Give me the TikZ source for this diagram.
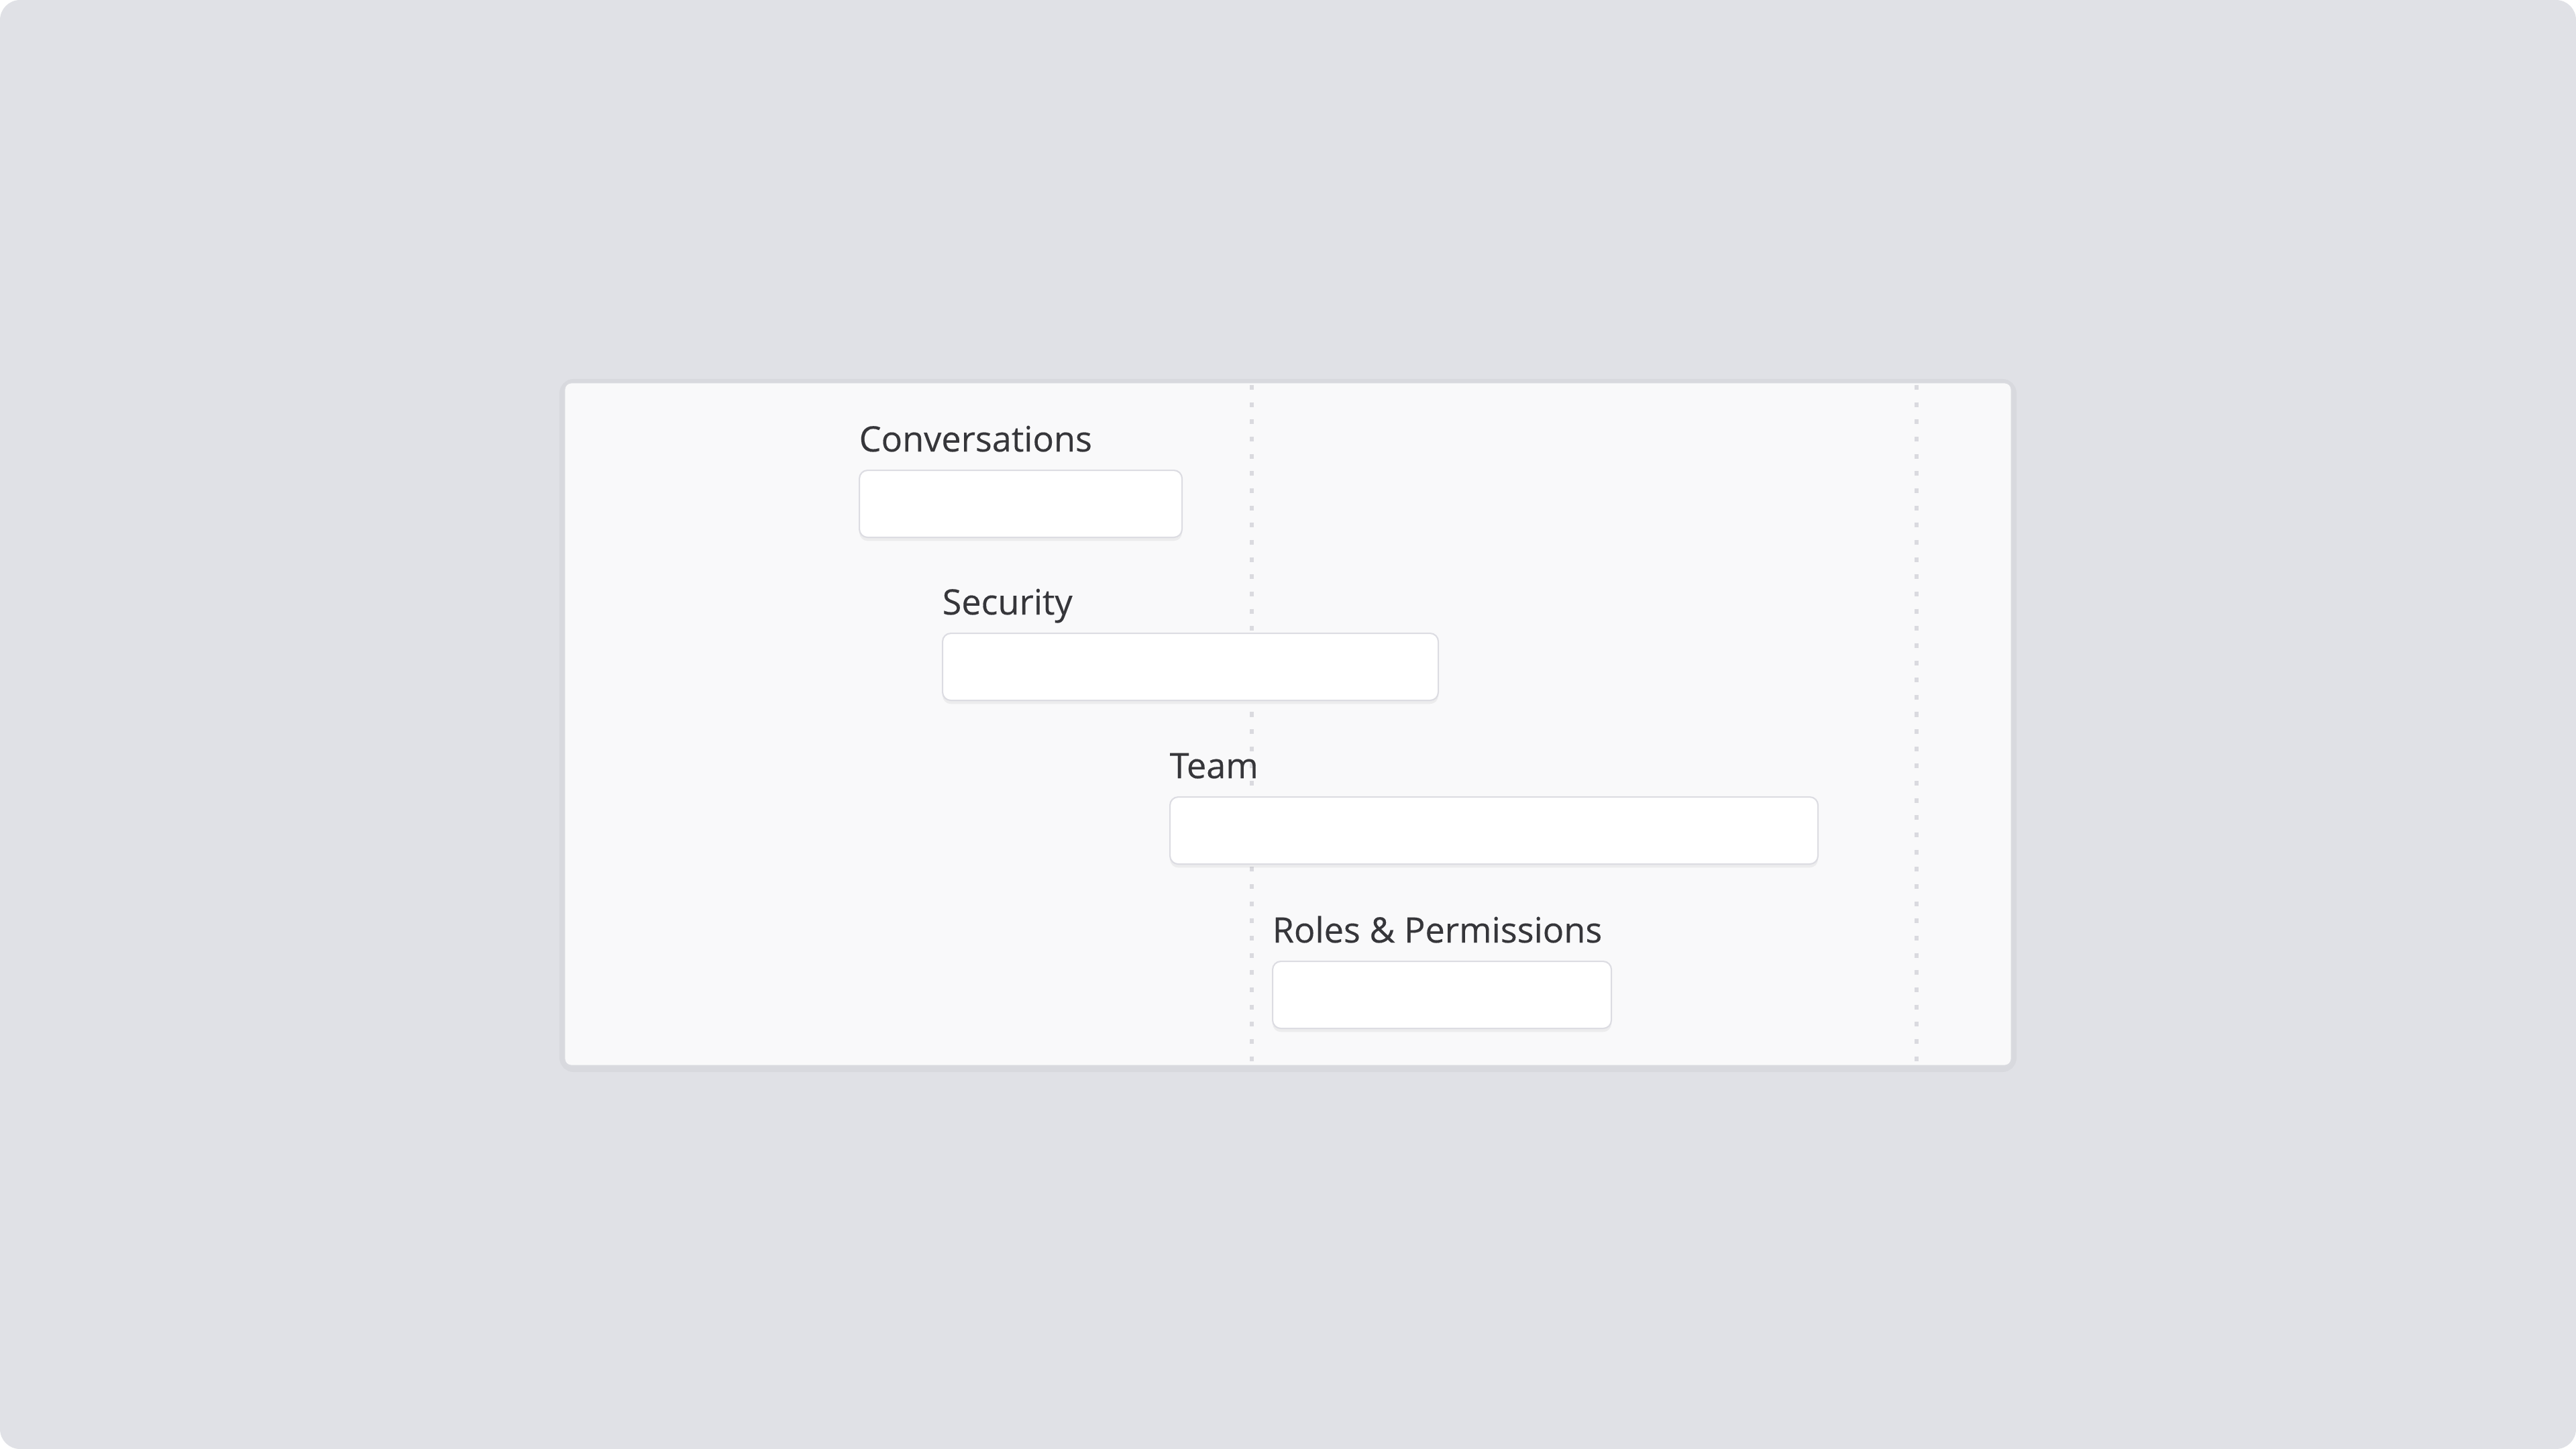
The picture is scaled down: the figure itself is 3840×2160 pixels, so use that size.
\documentclass[tikz,border=0pt]{standalone}
\usepackage{fontspec}
\setmainfont{Open Sans}
\newfontfamily\labelfont{Open Sans}[FakeBold=0.3]
\usetikzlibrary{shadows}
\definecolor{pagebg}{HTML}{E0E1E6}
\definecolor{panelbg}{HTML}{F9F9FA}
\definecolor{panelline}{HTML}{D9DADF}
\definecolor{fieldline}{HTML}{DCDCE2}
\definecolor{guide}{HTML}{DADADF}
\definecolor{labeltext}{HTML}{36363A}

\tikzset{
	fieldbox/.style={draw=fieldline, line width=0.6pt, fill=white, rounded corners=3.5pt,
		anchor=north west, inner sep=0pt, minimum height=1cm,
		drop shadow={shadow xshift=0pt, shadow yshift=-1.5pt, opacity=0.05, fill=black}},
	fieldlabel/.style={anchor=base west, inner sep=0pt, text=labeltext,
		font=\labelfont\fontsize{14.85}{18}\selectfont},
	guideline/.style={guide, line width=1.5pt, dash pattern=on 2pt off 5.3pt}
}

\begin{document}
\begin{tikzpicture}[x=0.1mm, y=-0.1mm]
	\useasboundingbox (0,0) rectangle (3840,2160);
	\fill [white] (0,0) rectangle (3840,2160);
	\fill [pagebg, rounded corners=8.5pt] (0,0) rectangle (3840,2160);
	
	% panel
	\draw [black, opacity=0.03, line width=4pt, rounded corners=4pt] (841,572) rectangle (2999,1591);
	\draw [panelline, fill=panelbg, line width=0.8pt, rounded corners=3pt] (841,570) rectangle (2999,1589);
	
	% dotted guides
	\draw [guideline] (1866,574) -- (1866,1588);
	\draw [guideline] (2857,574) -- (2857,1588);
	
	% fields
	\node [fieldbox, minimum width=4.81cm] (convbox) at (1280,700) {};
	\node [fieldlabel] (convlabel) at ([yshift=0.27cm]convbox.north west) {Conversations};
	
	\node [fieldbox, minimum width=7.39cm] (secbox) at (1404,943) {};
	\node [fieldlabel] (seclabel) at ([yshift=0.27cm]secbox.north west) {Security};
	
	\node [fieldbox, minimum width=9.66cm] (teambox) at (1743,1187) {};
	\node [fieldlabel] (teamlabel) at ([yshift=0.27cm]teambox.north west) {Team};
	
	\node [fieldbox, minimum width=5.05cm] (rolesbox) at (1896,1432) {};
	\node [fieldlabel] (roleslabel) at ([yshift=0.27cm]rolesbox.north west) {Roles \& Permissions};
\end{tikzpicture}
\end{document}
